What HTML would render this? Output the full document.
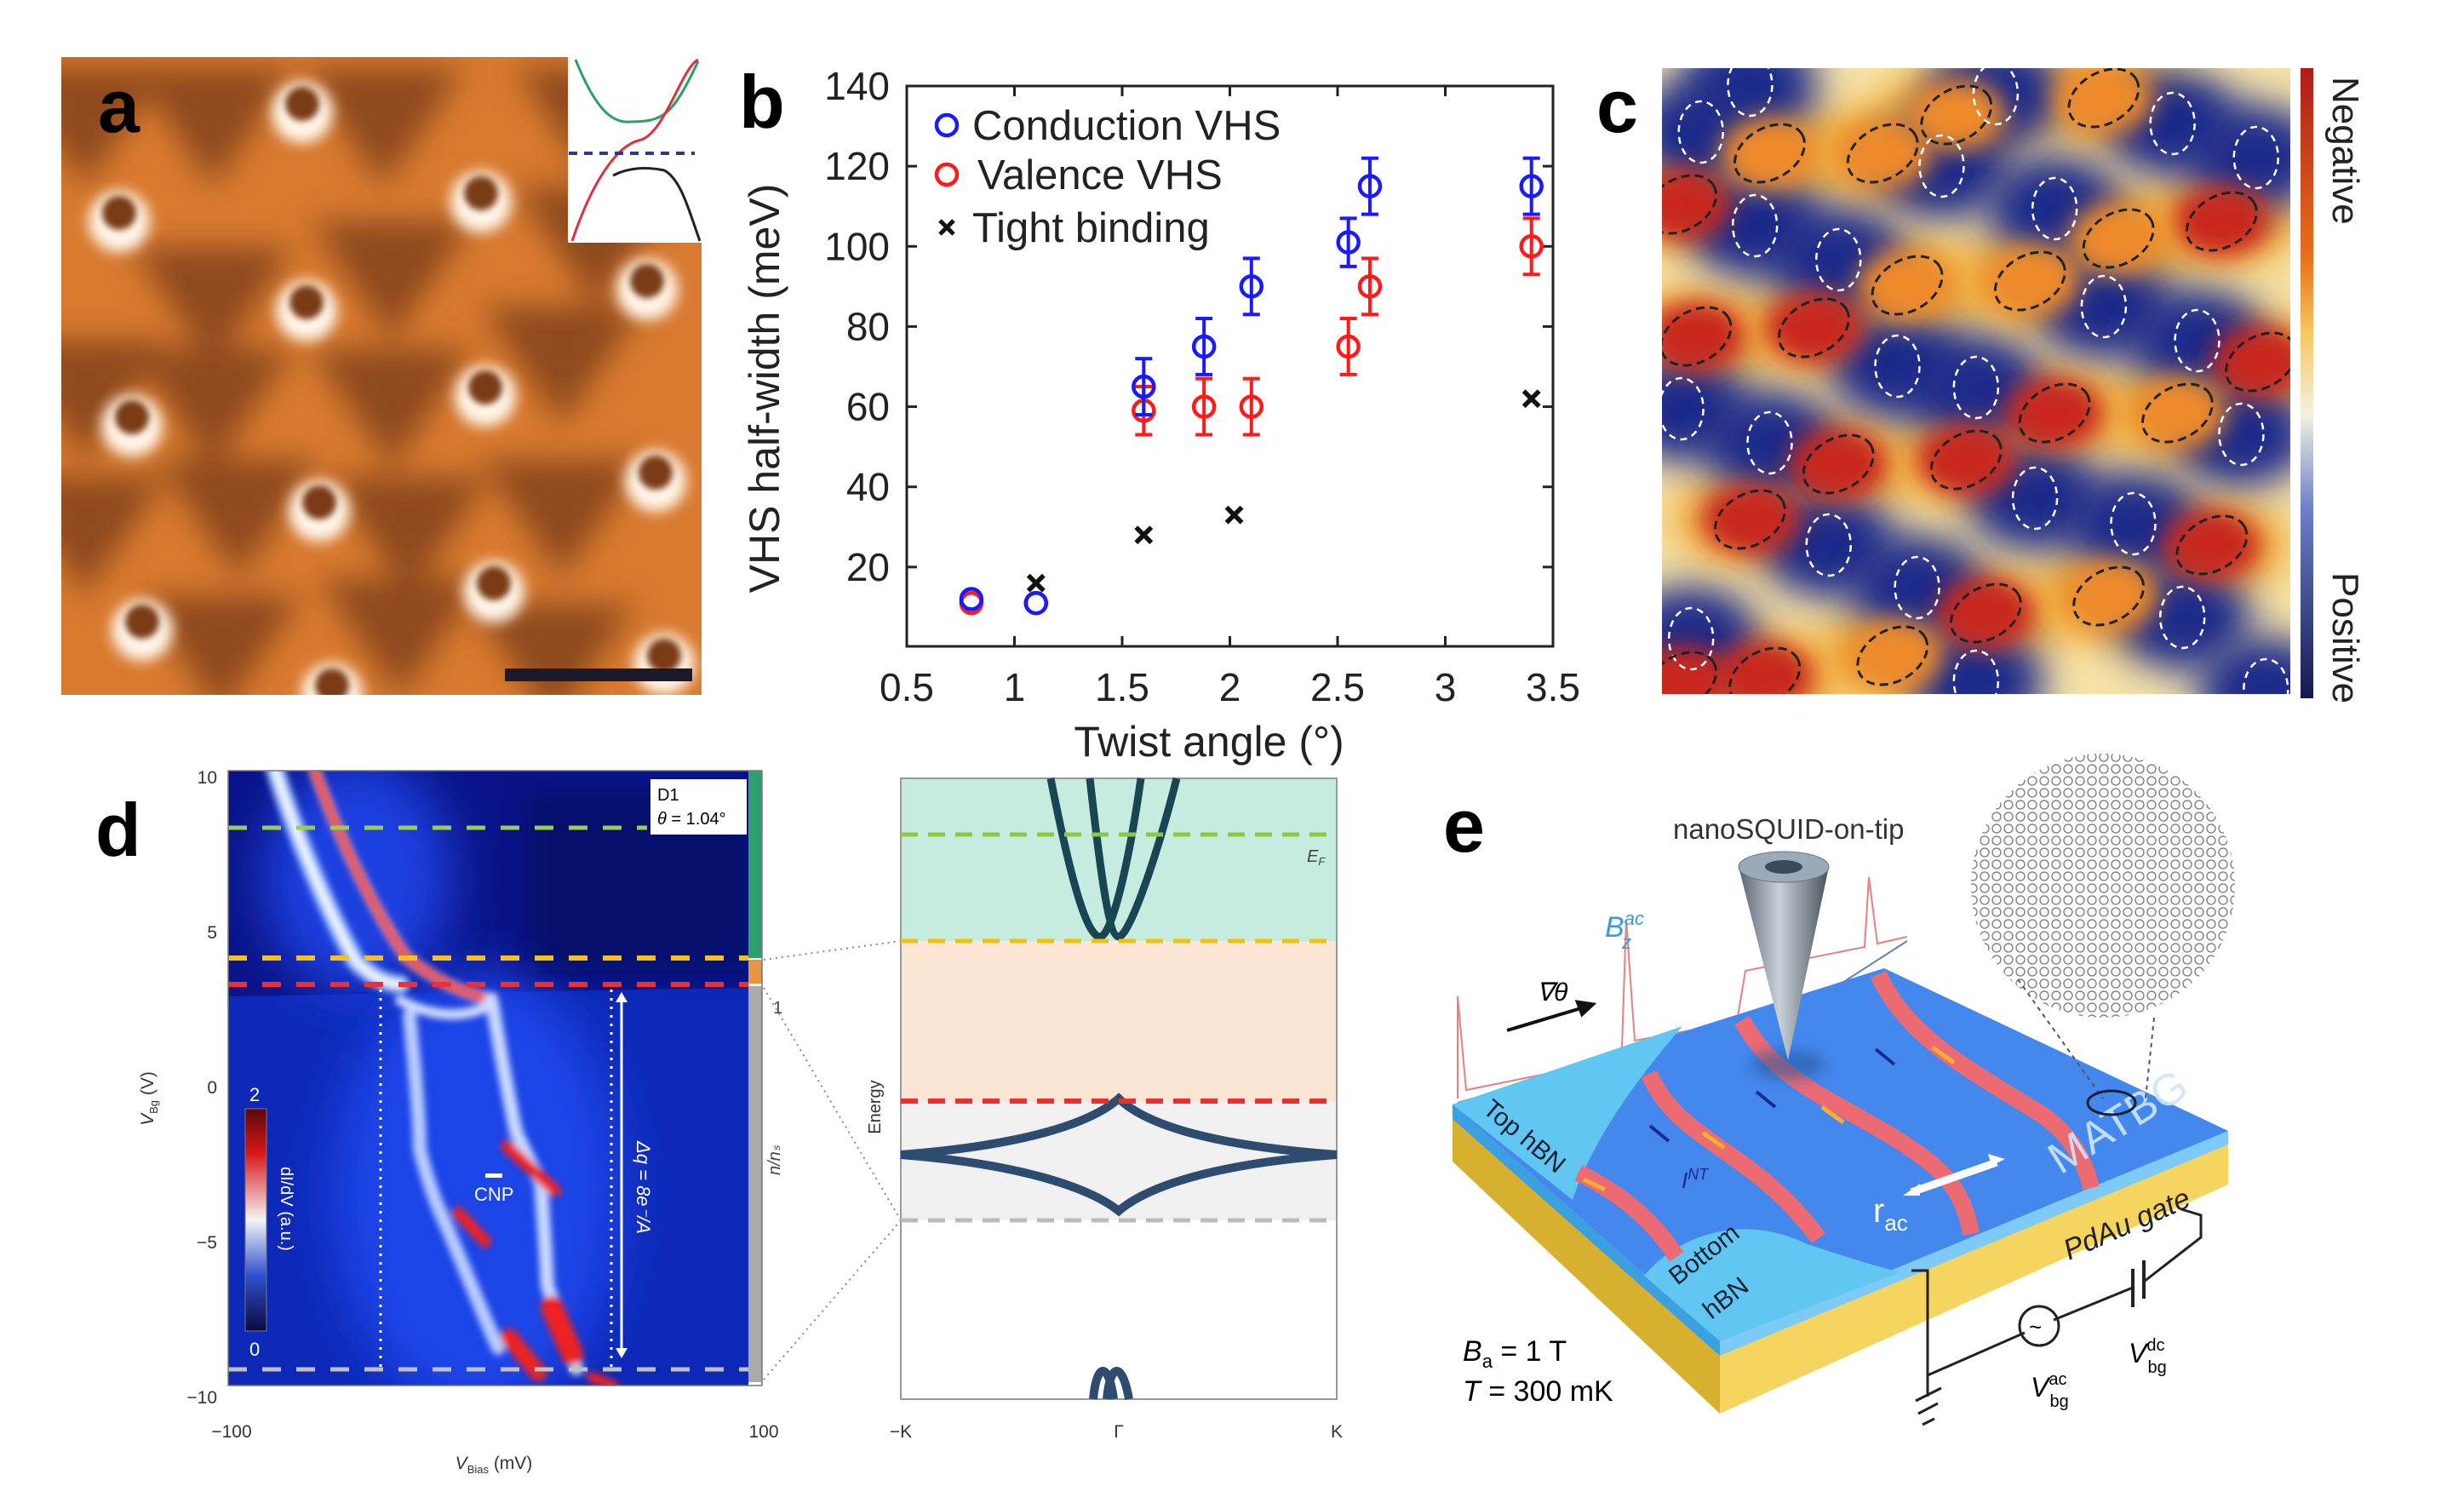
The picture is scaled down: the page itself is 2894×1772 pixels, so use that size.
<!DOCTYPE html>
<html><head><meta charset="utf-8"><style>
html,body{margin:0;padding:0;background:#fff;}
svg{display:block;font-family:"Liberation Sans",sans-serif;}
</style></head><body>
<svg id="fig" width="2894" height="1772" viewBox="0 0 2894 1772" xmlns="http://www.w3.org/2000/svg">
<defs>
<filter id="blur8" x="-100%" y="-100%" width="300%" height="300%"><feGaussianBlur stdDeviation="8"/></filter>
<filter id="blur14" x="-100%" y="-100%" width="300%" height="300%"><feGaussianBlur stdDeviation="14"/></filter>
<filter id="blur18" x="-100%" y="-100%" width="300%" height="300%"><feGaussianBlur stdDeviation="18"/></filter>
<filter id="blur22" x="-100%" y="-100%" width="300%" height="300%"><feGaussianBlur stdDeviation="22"/></filter>
<filter id="blur4" x="-100%" y="-100%" width="300%" height="300%"><feGaussianBlur stdDeviation="4"/></filter>
<filter id="blur30" x="-50%" y="-50%" width="200%" height="200%"><feGaussianBlur stdDeviation="30"/></filter>
<clipPath id="clipA"><rect x="72" y="67" width="752" height="749"/></clipPath>
<clipPath id="clipC"><rect x="1952" y="80" width="738" height="735"/></clipPath>
<clipPath id="clipD"><rect x="268" y="905" width="611" height="722"/></clipPath>
<clipPath id="clipLat"><circle cx="2470" cy="1040" r="155"/></clipPath>
<pattern id="lat" width="14" height="14" patternUnits="userSpaceOnUse"><circle cx="7" cy="7" r="5" fill="none" stroke="#777" stroke-width="1.3"/></pattern>
<linearGradient id="cbar" x1="0" y1="0" x2="0" y2="1"><stop offset="0" stop-color="#b01a1a"/><stop offset="0.3" stop-color="#e8701a"/><stop offset="0.42" stop-color="#f5c860"/><stop offset="0.55" stop-color="#f4f0e0"/><stop offset="0.7" stop-color="#6a80c8"/><stop offset="1" stop-color="#151850"/></linearGradient>
<linearGradient id="dcbar" x1="0" y1="0" x2="0" y2="1"><stop offset="0" stop-color="#5a0808"/><stop offset="0.2" stop-color="#d81818"/><stop offset="0.5" stop-color="#f4f4f4"/><stop offset="0.75" stop-color="#3050d0"/><stop offset="1" stop-color="#0a0a40"/></linearGradient>
<linearGradient id="cone" x1="0" y1="0" x2="1" y2="0"><stop offset="0" stop-color="#5a6470"/><stop offset="0.45" stop-color="#c8d0d8"/><stop offset="1" stop-color="#4a525a"/></linearGradient>
</defs>

<!-- ================= PANEL A ================= -->
<g>
<g clip-path="url(#clipA)">
<rect x="72" y="67" width="752" height="749" fill="#d87a30"/>
<g id="aDark" filter="url(#blur18)" fill="#8e4a1c"></g>
<g id="aDots"></g>
</g>
<g>
<rect x="667" y="67" width="157" height="218" fill="#fff"/>
<path d="M676,70 C700,130 720,145 740,143 C780,143 790,135 820,72" fill="none" stroke="#2aa060" stroke-width="3"/>
<path d="M672,283 C700,200 730,170 750,165 C780,160 800,80 820,70" fill="none" stroke="#e03040" stroke-width="3"/>
<path d="M720,206 C740,196 760,196 780,200 C800,210 810,250 822,283" fill="none" stroke="#222" stroke-width="3"/>
<line x1="668" y1="180" x2="816" y2="180" stroke="#2a3a90" stroke-width="4" stroke-dasharray="10,8"/>
</g>
<rect x="593" y="785" width="220" height="15" fill="#1a1a2a"/>
<text x="115" y="155" font-size="88" font-weight="bold">a</text>
</g>

<!-- ================= PANEL B (chart) ================= -->
<g id="panelB">
<text x="868" y="150" font-size="88" font-weight="bold">b</text>
<rect x="1065" y="101" width="759" height="658" fill="none" stroke="#222" stroke-width="3"/>
<g id="bTicks"></g>
<g id="bMarks"></g>
<text transform="translate(915,456) rotate(-90)" text-anchor="middle" font-size="50" fill="#222">VHS half-width (meV)</text>
<text x="1420" y="888" text-anchor="middle" font-size="50" fill="#222">Twist angle (°)</text>
<g>
<g><circle cx="1112" cy="147" r="12" fill="none" stroke="#1a1aff" stroke-width="4.5"/><text x="1142" y="164" font-size="49" fill="#222">Conduction VHS</text></g>
<g><circle cx="1112" cy="205" r="12" fill="none" stroke="#ff1a1a" stroke-width="4.5"/><text x="1148" y="222" font-size="49" fill="#222">Valence VHS</text></g>
<g><path d="M1104,259 l16,16 M1120,259 l-16,16" stroke="#111" stroke-width="5"/><text x="1142" y="284" font-size="49" fill="#222">Tight binding</text></g>
</g>
</g>

<!-- ================= PANEL C ================= -->
<g>
<text x="1875" y="155" font-size="88" font-weight="bold">c</text>
<g clip-path="url(#clipC)">
<rect x="1952" y="80" width="738" height="735" fill="#f6e2a8"/>
<g id="cBlobs"></g>
<g id="cLines"></g>
</g>
<rect x="2702" y="80" width="15" height="740" fill="url(#cbar)"/>
<text transform="translate(2740,90) rotate(90)" font-size="44" fill="#222">Negative</text>
<text transform="translate(2740,672) rotate(90)" font-size="44" fill="#222">Positive</text>
</g>

<!-- ================= PANEL D ================= -->
<g>
<text x="112" y="1005" font-size="88" font-weight="bold">d</text>
<g clip-path="url(#clipD)">
<rect x="268" y="905" width="611" height="722" fill="#0a1488"/>
<path d="M268,1170 L880,1160 L880,1627 L268,1627Z" fill="#1030c8" opacity="0.75"/>
<ellipse cx="560" cy="1400" rx="170" ry="260" fill="#1a44e8" filter="url(#blur30)"/>
<ellipse cx="420" cy="1030" rx="110" ry="140" fill="#1a40e0" filter="url(#blur30)"/>
<rect x="620" y="930" width="260" height="210" fill="#060c50" opacity="0.5" filter="url(#blur14)"/>
<g filter="url(#blur4)" fill="none" stroke-linecap="round">
<path d="M322,900 C350,990 390,1080 418,1129 C440,1150 455,1155 470,1156" stroke="#9ec0ff" stroke-width="22"/>
<path d="M322,900 C350,990 390,1080 418,1129 C440,1150 455,1155 470,1156" stroke="#fff" stroke-width="7"/>
<path d="M368,900 C400,990 440,1070 477,1124 C510,1150 540,1165 568,1171" stroke="#ff9aa0" stroke-width="14"/>
<path d="M368,900 C400,990 440,1070 477,1124 C510,1150 540,1165 568,1171" stroke="#e82020" stroke-width="7"/>
<path d="M481,1193 C488,1260 493,1320 493,1349 C505,1400 520,1430 527,1446 C550,1500 570,1550 585,1583" stroke="#b8ccff" stroke-width="16"/>
<path d="M577,1173 C582,1200 589,1241 589,1241 C598,1290 606,1329 606,1329 C620,1360 635,1388 635,1388 C640,1450 643,1510 643,1510 C660,1560 677,1607 677,1607" stroke="#c8d8ff" stroke-width="16"/>
<path d="M470,1175 C500,1190 540,1200 575,1180" stroke="#d0dcff" stroke-width="12"/>
<path d="M595,1346 L652,1398" stroke="#ee2020" stroke-width="14"/>
<path d="M538,1424 L570,1458" stroke="#ee2020" stroke-width="14"/>
<path d="M648,1535 L672,1590" stroke="#ee2020" stroke-width="26"/>
<path d="M598,1570 L632,1612" stroke="#ee2020" stroke-width="20"/>
<path d="M695,1617 L720,1627" stroke="#ee2020" stroke-width="12"/>
</g>
<line x1="268" y1="972" x2="760" y2="972" stroke="#9acd50" stroke-width="5" stroke-dasharray="22,18"/>
<line x1="268" y1="1125" x2="880" y2="1125" stroke="#f5c020" stroke-width="6" stroke-dasharray="22,18"/>
<line x1="268" y1="1156" x2="880" y2="1156" stroke="#ee3030" stroke-width="6" stroke-dasharray="22,18"/>
<line x1="268" y1="1608" x2="880" y2="1608" stroke="#c0c0c0" stroke-width="5" stroke-dasharray="22,18"/>
<line x1="447" y1="1162" x2="447" y2="1610" stroke="#fff" stroke-width="3" stroke-dasharray="3,7"/>
<line x1="718" y1="1162" x2="718" y2="1610" stroke="#fff" stroke-width="3" stroke-dasharray="3,7"/>
<line x1="730" y1="1175" x2="730" y2="1585" stroke="#fff" stroke-width="3"/>
<path d="M723,1177 L730,1165 L737,1177Z M723,1583 L730,1595 L737,1583Z" fill="#fff"/>
<text transform="translate(748,1340) rotate(90)" font-size="22" fill="#fff" font-style="italic">Δq = 8e⁻/A</text>
<rect x="764" y="915" width="113" height="65" fill="#fff"/>
<text x="772" y="940" font-size="20">D1</text>
<text x="772" y="968" font-size="20"><tspan font-style="italic">θ</tspan> = 1.04°</text>
<rect x="288" y="1302" width="25" height="261" fill="url(#dcbar)" stroke="#777"/>
<text x="293" y="1293" font-size="22" fill="#fff">2</text>
<text x="293" y="1592" font-size="22" fill="#fff">0</text>
<text transform="translate(330,1370) rotate(90)" font-size="20" fill="#fff">dI/dV (a.u.)</text>
<rect x="570" y="1378" width="20" height="5" fill="#fff"/>
<text x="557" y="1410" font-size="22" fill="#fff">CNP</text>
</g>
<rect x="879" y="905" width="16" height="220" fill="#2da070"/>
<rect x="879" y="1127" width="16" height="28" fill="#e89440"/>
<rect x="879" y="1158" width="16" height="465" fill="#aaa"/>
<text x="908" y="1190" font-size="20" fill="#444">1</text>
<text transform="translate(916,1380) rotate(-90)" font-size="20" fill="#444" font-style="italic">n/nₛ</text>
<rect x="268" y="905" width="627" height="722" fill="none" stroke="#777" stroke-width="1.5"/>
<g font-size="21" fill="#333" text-anchor="end">
<text x="255" y="920">10</text><text x="255" y="1102">5</text><text x="255" y="1284">0</text><text x="255" y="1466">−5</text><text x="255" y="1648">−10</text>
</g>
<text x="272" y="1688" font-size="21" fill="#333" text-anchor="middle">−100</text>
<text x="897" y="1688" font-size="21" fill="#333" text-anchor="middle">100</text>
<text x="580" y="1725" font-size="21" fill="#333" text-anchor="middle"><tspan font-style="italic">V</tspan><tspan font-size="13" dy="5">Bias</tspan><tspan dy="-5"> (mV)</tspan></text>
<text transform="translate(180,1290) rotate(-90)" font-size="21" fill="#333" text-anchor="middle"><tspan font-style="italic">V</tspan><tspan font-size="13" dy="5">Bg</tspan><tspan dy="-5"> (V)</tspan></text>
<path d="M897,1127 L1058,1105 M897,1160 L1058,1433 M897,1620 L1058,1433" stroke="#888" stroke-width="2" stroke-dasharray="2,5" fill="none"/>
</g>

<!-- band structure -->
<g>
<rect x="1058" y="914" width="512" height="191" fill="#c6ece0"/>
<rect x="1058" y="1105" width="512" height="188" fill="#fbe6d4"/>
<rect x="1058" y="1293" width="512" height="140" fill="#f0f0f0"/>
<rect x="1058" y="914" width="512" height="729" fill="none" stroke="#999" stroke-width="2"/>
<g fill="none" stroke="#1a4555" stroke-width="9">
<path d="M1234,914 C1255,1020 1275,1100 1292,1100 C1305,1100 1325,1020 1340,914"/>
<path d="M1280,914 C1292,1020 1302,1100 1314,1100 C1325,1100 1355,1020 1382,914"/>
</g>
<g fill="none" stroke="#2e4c70" stroke-width="10">
<path d="M1058,1356 C1200,1345 1280,1320 1314,1290 C1345,1320 1420,1345 1570,1356"/>
<path d="M1058,1356 C1200,1367 1280,1395 1314,1422 C1345,1395 1420,1367 1570,1356"/>
<path d="M1284,1643 C1288,1600 1302,1598 1308,1643 M1300,1643 C1304,1600 1318,1598 1326,1643"/>
</g>
<line x1="1058" y1="980" x2="1570" y2="980" stroke="#8cc840" stroke-width="5" stroke-dasharray="20,12"/>
<line x1="1058" y1="1105" x2="1570" y2="1105" stroke="#f0c010" stroke-width="5" stroke-dasharray="20,12"/>
<line x1="1058" y1="1293" x2="1570" y2="1293" stroke="#e83030" stroke-width="6" stroke-dasharray="20,12"/>
<line x1="1058" y1="1433" x2="1570" y2="1433" stroke="#bbb" stroke-width="5" stroke-dasharray="20,12"/>
<text x="1535" y="1012" font-size="20" font-style="italic" fill="#444">E<tspan font-size="13" dy="4">F</tspan></text>
<text transform="translate(1034,1300) rotate(-90)" font-size="20" fill="#333" text-anchor="middle">Energy</text>
<text x="1058" y="1688" font-size="21" fill="#333" text-anchor="middle">−K</text>
<text x="1314" y="1688" font-size="21" fill="#333" text-anchor="middle">Γ</text>
<text x="1570" y="1688" font-size="21" fill="#333" text-anchor="middle">K</text>
</g>

<!-- ================= PANEL E ================= -->
<g>
<text x="1695" y="1000" font-size="88" font-weight="bold">e</text>
<text x="1965" y="985" font-size="33" fill="#333">nanoSQUID-on-tip</text>
<path d="M1712,1290 L1712,1170 L1722,1280 L1870,1250 L1905,1230 L1910,1080 L1920,1222 L2040,1200 L2050,1140 L2190,1112 L2195,1030 L2205,1108 L2240,1100" fill="none" stroke="#e88080" stroke-width="2"/>
<path d="M1712,1295 L1905,1240 L2100,1195 L2240,1105" fill="none" stroke="#6080c0" stroke-width="2"/>
<polygon points="1706,1297 2020,1575 2020,1660 1706,1364" fill="#d8b030"/>
<polygon points="2020,1575 2617,1328 2617,1391 2020,1660" fill="#f5d460"/>
<polygon points="1706,1297 2020,1575 2020,1592 1706,1314" fill="#3aa0e0"/>
<polygon points="2020,1575 2617,1328 2617,1344 2020,1592" fill="#7ccaf5"/>
<polygon points="1706,1297 2213,1137 2617,1328 2020,1575" fill="#4488ee"/>
<path d="M1706,1297 L1976,1205 C1920,1270 1870,1340 1847,1409Z" fill="#62c6f2"/>
<path d="M1931,1498 C1980,1440 2060,1430 2120,1460 C2180,1480 2215,1490 2232,1494 L2020,1575Z" fill="#62c6f2"/>
<g fill="none" stroke="#ec6a72" stroke-width="20">
<path d="M1854,1377 C1900,1400 1940,1430 1969,1476"/>
<path d="M1937,1261 C1970,1340 2060,1350 2136,1454"/>
<path d="M2046,1198 C2090,1280 2180,1300 2260,1360 C2300,1390 2310,1420 2315,1449"/>
<path d="M2206,1144 C2240,1220 2320,1260 2400,1310 C2440,1340 2450,1370 2456,1395"/>
</g>
<g stroke="#f5b030" stroke-width="5" fill="none">
<path d="M1860,1385 l25,12"/>
<path d="M2000,1330 l25,18"/><path d="M2140,1300 l25,18"/><path d="M2270,1230 l25,18"/>
</g>
<g stroke="#1a2a90" stroke-width="4"><path d="M1960,1340 l-22,-18"/><path d="M2085,1300 l-22,-18"/><path d="M2225,1250 l-22,-18"/></g>
<path d="M2245,1400 L2345,1365" stroke="#fff" stroke-width="9"/>
<path d="M2235,1404 l20,-14 l0,14Z M2355,1361 l-20,-6 l4,14Z" fill="#fff"/>
<text x="2200" y="1435" font-size="40" fill="#fff">r<tspan font-size="26" dy="10">ac</tspan></text>
<text transform="translate(2420,1380) rotate(-32)" font-size="52" fill="#cfe6ff" opacity="0.9">MATBG</text>
<text transform="translate(2430,1480) rotate(-24)" font-size="34" font-style="italic" fill="#222">PdAu gate</text>
<text transform="translate(1740,1305) rotate(40)" font-size="30" fill="#123">Top hBN</text>
<text transform="translate(1970,1510) rotate(-38)" font-size="30" fill="#123">Bottom</text>
<text transform="translate(2010,1550) rotate(-38)" font-size="30" fill="#123">hBN</text>
<text x="1975" y="1395" font-size="26" fill="#1a2a90" font-style="italic">I<tspan font-size="18" dy="-10">NT</tspan></text>
<ellipse cx="2100" cy="1250" rx="45" ry="18" fill="#2a5aa0" opacity="0.6" filter="url(#blur8)"/>
<polygon points="2042,1018 2148,1018 2100,1245" fill="url(#cone)"/>
<ellipse cx="2095" cy="1018" rx="53" ry="18" fill="#9aaab8" stroke="#6a7886"/>
<ellipse cx="2095" cy="1018" rx="22" ry="8" fill="#3a4a5a"/>
<text x="1885" y="1100" font-size="34" font-style="italic" fill="#3a9ae0">B<tspan font-size="22" dy="-14">ac</tspan><tspan font-size="22" dx="-26" dy="28">z</tspan></text>
<text x="1805" y="1175" font-size="30" font-style="italic">∇θ</text>
<path d="M1770,1210 L1870,1180" stroke="#111" stroke-width="4"/><path d="M1872,1179 L1852,1176 L1858,1192Z" fill="#111" stroke="#111" stroke-width="3"/>
<circle cx="2470" cy="1040" r="155" fill="#fff"/>
<rect clip-path="url(#clipLat)" x="2300" y="880" width="340" height="320" fill="url(#lat)"/>
<path d="M2370,1150 L2470,1290 M2530,1195 L2520,1290" stroke="#555" stroke-width="2" stroke-dasharray="5,5"/>
<ellipse cx="2480" cy="1295" rx="28" ry="14" fill="none" stroke="#123" stroke-width="3"/>
<path d="M2245,1492 L2264,1492 L2264,1640 M2264,1615 L2378,1565 M2412,1550 L2505,1512 M2518,1505 L2585,1453 L2585,1427 L2562,1420" fill="none" stroke="#222" stroke-width="3"/>
<path d="M2505,1490 L2505,1535 M2518,1480 L2518,1525" stroke="#222" stroke-width="4"/>
<circle cx="2395" cy="1557" r="23" fill="none" stroke="#222" stroke-width="3"/>
<text x="2383" y="1567" font-size="26">~</text>
<path d="M2250,1645 L2280,1630 M2253,1660 L2276,1648 M2258,1673 L2272,1666" stroke="#222" stroke-width="3"/>
<text x="2385" y="1640" font-size="32" font-style="italic">V<tspan font-size="20" dy="-14" font-style="normal">ac</tspan><tspan font-size="20" dx="-20" dy="26" font-style="normal">bg</tspan></text>
<text x="2500" y="1600" font-size="32" font-style="italic">V<tspan font-size="20" dy="-14" font-style="normal">dc</tspan><tspan font-size="20" dx="-20" dy="26" font-style="normal">bg</tspan></text>
<text x="1718" y="1598" font-size="34"><tspan font-style="italic">B</tspan><tspan font-size="22" dy="8">a</tspan><tspan dy="-8"> = 1 T</tspan></text>
<text x="1718" y="1645" font-size="34"><tspan font-style="italic">T</tspan> = 300 mK</text>
</g>
</svg>
<script>
// ===== Panel b data =====
const angleConduction = [0.8, 1.1, 1.6, 1.88, 2.1, 2.55, 2.65, 3.4];
const conductionVHS   = [12, 11, 65, 75, 90, 101, 115, 115];
const conductionErr   = [0, 0, 7, 7, 7, 6, 7, 7];
const angleValence    = [0.8, 1.1, 1.6, 1.88, 2.1, 2.55, 2.65, 3.4];
const valenceVHS      = [11, 11, 59, 60, 60, 75, 90, 100];
const valenceErr      = [0, 0, 6, 7, 7, 7, 7, 7];
const angleTB         = [1.1, 1.6, 2.02, 3.4];
const tightBinding    = [16, 28, 33, 62];
const xTickLabels     = ["0.5","1","1.5","2","2.5","3","3.5"];
const yTickLabels     = ["20","40","60","80","100","120","140"];

const NS = "http://www.w3.org/2000/svg";
const X0=1065, X1=1824, Y0=760, Y140=101;
function xs(v){ return X0 + (v-0.5)/3.0*(X1-X0); }
function ys(v){ return Y0 - v/140*(Y0-Y140); }
function mk(tag, attrs, parent){ const e=document.createElementNS(NS,tag); for(const k in attrs) e.setAttribute(k,attrs[k]); parent.appendChild(e); return e; }

const ticks=document.getElementById('bTicks');
xTickLabels.forEach(function(l){
  const v=parseFloat(l), x=xs(v);
  const t=mk('line',{x1:x,y1:759,x2:x,y2:747,stroke:'#222','stroke-width':3},ticks);
  
  
  const t2=mk('line',{x1:x,y1:101,x2:x,y2:113,stroke:'#222','stroke-width':3},ticks);
  
  
  const tx=mk('text',{x:x,y:823,'text-anchor':'middle','font-size':46,fill:'#222'},ticks);
  tx.textContent=l;
  
  
});
yTickLabels.forEach(function(l){
  const v=parseFloat(l), y=ys(v);
  const t=mk('line',{x1:1065,y1:y,x2:1077,y2:y,stroke:'#222','stroke-width':3},ticks);
  
  
  const t2=mk('line',{x1:1824,y1:y,x2:1812,y2:y,stroke:'#222','stroke-width':3},ticks);
  
  
  const tx=mk('text',{x:1045,y:y+16,'text-anchor':'end','font-size':46,fill:'#222'},ticks);
  tx.textContent=l;
  
  
});
const marks=document.getElementById('bMarks');
function series(ax, vals, errs, color, name){
  ax.forEach(function(a,i){
    const x=xs(a), y=ys(vals[i]);
    if(errs[i]>0){
      const lo=ys(vals[i]-errs[i]), hi=ys(vals[i]+errs[i]);
      const e=mk('path',{d:'M'+x+','+lo+' L'+x+','+hi+' M'+(x-10)+','+lo+' L'+(x+10)+','+lo+' M'+(x-10)+','+hi+' L'+(x+10)+','+hi,stroke:color,'stroke-width':4,fill:'none'},marks);
      
      
    }
    const c=mk('circle',{cx:x,cy:y,r:12,fill:'none',stroke:color,'stroke-width':4.5},marks);
    
    
  });
}
series(angleValence, valenceVHS, valenceErr, '#ff1a1a', 'valence');
series(angleConduction, conductionVHS, conductionErr, '#1a1aff', 'conduction');
angleTB.forEach(function(a,i){
  const x=xs(a), y=ys(tightBinding[i]);
  const p=mk('path',{d:'M'+(x-9)+','+(y-9)+' l18,18 M'+(x+9)+','+(y-9)+' l-18,18',stroke:'#111','stroke-width':5.5},marks);
  
  
});

// ===== Panel a decorative image =====
const aDotPos=[[355,122],[140,250],[565,227],[360,355],[760,330],[155,490],[570,455],[375,590],[770,555],[167,730],[580,685],[780,770],[390,805]];
const aDarkPos=[[250,140],[450,140],[100,140],[250,350],[460,320],[660,420],[250,470],[460,470],[100,460],[660,600],[280,600],[480,620],[100,620],[260,760],[470,740],[650,770],[700,140],[700,280]];
const aDark=document.getElementById('aDark');
aDarkPos.forEach(function(p){ mk('path',{d:'M'+(p[0]-95)+','+(p[1]-60)+' L'+(p[0]+95)+','+(p[1]-60)+' L'+p[0]+','+(p[1]+80)+'Z'},aDark); });
const aDots=document.getElementById('aDots');
aDotPos.forEach(function(p){
  mk('circle',{cx:p[0],cy:p[1]+10,r:36,fill:'#fff7ea',filter:'url(#blur8)'},aDots);
  mk('circle',{cx:p[0],cy:p[1],r:20,fill:'#7a3a14',filter:'url(#blur4)'},aDots);
});

// ===== Panel c decorative image =====
const cBlue=[[100,190],[210,410],[380,490],[590,270],[1060,170],[1230,250],[820,370],[920,600],[1110,680],[500,740],[660,790],[60,840],[240,920],[360,1160],[540,1260],[780,1050],[980,1110],[1200,900],[1080,1330],[80,1380],[660,1480],[1250,1500],[200,80],[700,100]];
const cRed=[[60,360,1],[240,240,0],[470,240,0],[620,150,0],[920,110,0],[1160,400,1],[950,440,0],[770,540,0],[520,550,0],[330,650,1],[90,670,1],[1240,730,1],[1070,850,0],[820,850,1],[640,960,1],[380,970,1],[200,1100,1],[1140,1160,1],[930,1280,0],[680,1320,1],[490,1420,0],[230,1470,1],[60,1480,1]];
const cB=document.getElementById('cBlobs'), cL=document.getElementById('cLines');
function cx(x){return 1940+x/1.733;} function cy(y){return 60+y/2;}
cRed.forEach(function(p){ mk('ellipse',{cx:cx(p[0]),cy:cy(p[1]),rx:95,ry:55,fill:'#f0b040',filter:'url(#blur22)'},cB); });
cBlue.forEach(function(p){ mk('ellipse',{cx:cx(p[0]),cy:cy(p[1]),rx:80,ry:62,fill:'#1e2c8a',filter:'url(#blur22)'},cB); });
cRed.forEach(function(p){ mk('ellipse',{cx:cx(p[0]),cy:cy(p[1]),rx:58,ry:42,fill:p[2]?'#c8281c':'#ee8a2a',filter:'url(#blur14)'},cB); });
cBlue.forEach(function(p){ mk('ellipse',{cx:cx(p[0]),cy:cy(p[1]),rx:26,ry:36,fill:'none',stroke:'#fff','stroke-width':2.5,'stroke-dasharray':'8,6'},cL); });
cRed.forEach(function(p){ mk('ellipse',{cx:cx(p[0]),cy:cy(p[1]),rx:44,ry:30,fill:'none',stroke:'#222','stroke-width':3,'stroke-dasharray':'10,6',transform:'rotate(-30 '+cx(p[0])+' '+cy(p[1])+')'},cL); });
</script>
</body></html>
